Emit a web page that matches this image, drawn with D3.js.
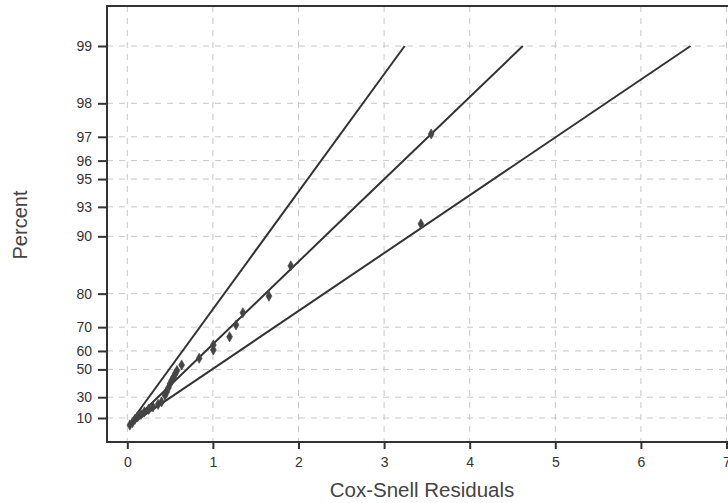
<!DOCTYPE html>
<html><head><meta charset="utf-8">
<script src="https://cdn.jsdelivr.net/npm/d3@7"></script>
<style>html,body{margin:0;padding:0;background:#fff;}svg{display:block;}</style>
</head><body>
<svg id="c" width="728" height="503"></svg>
<script>
// Data
const xTicks = [0,1,2,3,4,5,6,7];
const yTicks = [10,30,50,60,70,80,90,93,95,96,97,98,99];
// Cox-Snell residual, percent
const residuals = [0.03,0.06,0.09,0.12,0.16,0.20,0.25,0.30,0.36,0.40,
  0.44,0.46,0.48,0.50,0.52,0.54,0.56,0.58,0.635,0.84,1.005,1.005,1.195,1.27,1.35,1.655,1.91,3.43,3.55];
const percents = [2.0,4.9,8.6,11.3,13.9,16.5,18.9,21.3,23.7,25.9,
  31.6,34.3,37.5,40.5,42.9,45.1,47.3,49.3,52.6,56.3,60.5,62.8,66.3,70.8,74.8,79.4,85.7,91.4,97.1];
const upperLine = [[0.03,4.1],[3.24,99]];
const fitLine   = [[0.03,3.0],[2.65,92.9],[4.62,99]];
const lowerLine = [[0.03,2.1],[6.58,99]];

const svg = d3.select("#c");
const frame = {left:107, right:745, top:6, bottom:442};
const x = d3.scaleLinear().domain([0,7]).range([127.3,726.5]);
const v = d3.scaleLinear().domain([0, -Math.log(1-0.99)]).range([426.7,46]);
const toV = p => -Math.log(1-p/100);
const y = p => v(toV(p));

const font = "Liberation Sans, Arial, Helvetica, sans-serif";

// grid
const g = svg.append("g");
g.selectAll(".vg").data(xTicks).join("line")
  .attr("x1",d=>x(d)).attr("x2",d=>x(d)).attr("y1",frame.top).attr("y2",frame.bottom)
  .attr("stroke","#c8c8c8").attr("stroke-width",1).attr("stroke-dasharray","6,6");
g.selectAll(".hg").data(yTicks).join("line")
  .attr("x1",frame.left).attr("x2",frame.right).attr("y1",d=>y(d)).attr("y2",d=>y(d))
  .attr("stroke","#c8c8c8").attr("stroke-width",1).attr("stroke-dasharray","6,6");

// lines
const line = d3.line().x(d=>x(d[0])).y(d=>y(d[1]));
[upperLine, fitLine, lowerLine].forEach(L=>{
  svg.append("path").datum(L).attr("d",line).attr("fill","none")
    .attr("stroke","#333").attr("stroke-width",2);
});

// points
const pts = residuals.map((r,i)=>[r,percents[i]]);
svg.append("g").selectAll("path").data(pts).join("path")
  .attr("d", d3.symbol().type(d3.symbolDiamond).size(30))
  .attr("transform", d=>`translate(${x(d[0])},${y(d[1])})`)
  .attr("fill","#444").attr("stroke","#444").attr("stroke-width",0.6);

// frame
svg.append("rect").attr("x",frame.left).attr("y",frame.top)
  .attr("width",frame.right-frame.left).attr("height",frame.bottom-frame.top)
  .attr("fill","none").attr("stroke","#333").attr("stroke-width",2);

// axes
const xAxis = d3.axisBottom(x).tickValues(xTicks).tickSize(7).tickPadding(8).tickFormat(d3.format("d"));
const xa = svg.append("g").attr("transform",`translate(0,${frame.bottom})`).call(xAxis);
xa.select(".domain").remove();
xa.selectAll("line").attr("stroke","#333").attr("stroke-width",2);
xa.selectAll("text").attr("font-family",font).attr("font-size",14).attr("fill","#333");

const yAxis = d3.axisLeft(v).tickValues(yTicks.map(toV)).tickSize(9).tickPadding(6)
  .tickFormat(t=>Math.round(100*(1-Math.exp(-t))));
const ya = svg.append("g").attr("transform",`translate(${frame.left},0)`).call(yAxis);
ya.select(".domain").remove();
ya.selectAll("line").attr("stroke","#333").attr("stroke-width",2);
ya.selectAll("text").attr("font-family",font).attr("font-size",14).attr("fill","#333");

// titles
svg.append("text").attr("x",422).attr("y",497).attr("text-anchor","middle")
  .attr("font-family",font).attr("font-size",20.5).attr("fill","#444").text("Cox-Snell Residuals");
svg.append("text").attr("transform","translate(27,225) rotate(-90)").attr("text-anchor","middle")
  .attr("font-family",font).attr("font-size",20).attr("fill","#444").text("Percent");
</script>
</body></html>
